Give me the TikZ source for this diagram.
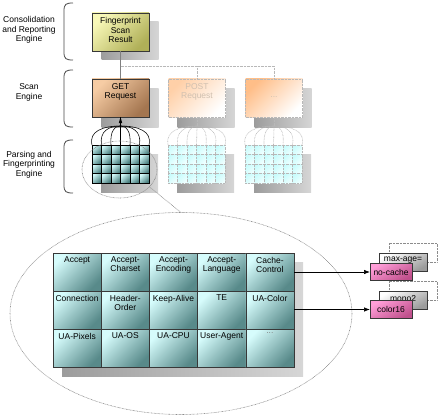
\documentclass[tikz,border=0pt]{standalone}
\usepackage{fontspec}
\setmainfont{Liberation Sans}
\usetikzlibrary{arrows.meta,calc,shapes.geometric}
\definecolor{edgec}{HTML}{383838}
\definecolor{shadowL}{HTML}{9C9C9C}
\definecolor{shadowR}{HTML}{D6D6D6}
\definecolor{yelA}{HTML}{F8F8B8}
\definecolor{yelB}{HTML}{B0B058}
\definecolor{orA}{HTML}{F6CCA4}
\definecolor{orB}{HTML}{A47650}
\definecolor{tealA}{HTML}{D2FAFA}
\definecolor{tealB}{HTML}{4A7E7E}
\definecolor{btealA}{HTML}{D6FCFC}
\definecolor{btealB}{HTML}{588A8A}
\definecolor{fadeA}{HTML}{C8FCFC}
\definecolor{fadeB}{HTML}{F0FFFF}
\definecolor{pinkA}{HTML}{FF9ED8}
\definecolor{pinkB}{HTML}{C0508C}
\definecolor{grayB}{HTML}{9C9C9C}
\definecolor{fadeO}{HTML}{FFD0A8}
\definecolor{fadeOO}{HTML}{FFBE88}
\definecolor{fadetext}{HTML}{D0C0B0}
\definecolor{dotc}{HTML}{B8B8B8}
\definecolor{dotdark}{HTML}{8C8C8C}
\definecolor{brk}{HTML}{484848}
\begin{document}
\begin{tikzpicture}[x=1pt,y=-1pt,
  every node/.style={font=\fontsize{8.5}{9.5}\selectfont, inner sep=0pt, outer sep=0pt},
  shadowbox/.style={draw=none, left color=shadowL, right color=shadowR},
  boxtext/.style={align=center},
  fpbox/.style={draw=edgec, line width=0.6pt, minimum width=57pt, minimum height=38pt,
     top color=yelA, bottom color=yelB, shading angle=45},
  getbox/.style={draw=edgec, line width=0.6pt, minimum width=57pt, minimum height=38pt,
     top color=orA, bottom color=orB, shading angle=45},
  fadebox/.style={draw=dotc, line width=0.6pt, dash pattern=on 0.7pt off 0.7pt,
     minimum width=57pt, minimum height=38pt, top color=#1, bottom color=white, shading angle=45},
  smallcell/.style={draw=black, line width=0.5pt, minimum size=9.5pt,
     top color=tealA, bottom color=tealB, shading angle=45},
  fadecell/.style={draw=dotc, line width=0.5pt, dash pattern=on 0.7pt off 0.7pt, minimum size=9.5pt,
     top color=fadeA, bottom color=fadeB, shading angle=45},
  bigcell/.style={draw=edgec, line width=0.6pt, minimum width=48.2pt, minimum height=38pt,
     top color=btealA, bottom color=btealB, shading angle=45},
  celltext/.style={anchor=north, align=center, font=\fontsize{8.5}{9}\selectfont},
  pinkbox/.style={draw=edgec, line width=0.6pt, minimum width=42pt, minimum height=17.5pt,
     top color=pinkA, bottom color=pinkB, shading angle=30},
  graybox/.style={draw=edgec, line width=0.6pt, minimum width=48pt, minimum height=18pt,
     top color=white, bottom color=grayB, shading angle=30},
  backdot/.style={draw=dotdark, line width=0.6pt, dash pattern=on 0.7pt off 0.7pt,
     minimum width=48pt, minimum height=19pt},
  dotline/.style={draw=dotc, line width=0.6pt, dash pattern=on 0.7pt off 0.7pt},
  darkdot/.style={draw=dotdark, line width=0.6pt, dash pattern=on 0.7pt off 0.7pt},
  bracket/.style={draw=brk, line width=0.8pt},
  arrowline/.style={draw=black, line width=0.7pt, -{Latex[length=6pt,width=4.5pt]}}
]
\useasboundingbox (0,0) rectangle (442,420);

% ---------- left labels and brackets ----------
\node[boxtext] (l1) at (29,30) {Consolidation\\and Reporting\\Engine};
\node[boxtext] (l2) at (29,92.5) {Scan\\Engine};
\node[boxtext] (l3) at (29,164.5) {Parsing and\\Fingerprinting\\Engine};
\draw[bracket] (73,3) .. controls (66,3) and (64,4) .. (64,11) -- (64,52) .. controls (64,59) and (66,60) .. (73,60);
\draw[bracket] (73,70) .. controls (66,70) and (64,71) .. (64,78) -- (64,119) .. controls (64,126) and (66,127) .. (73,127);
\draw[bracket] (73,140) .. controls (66,140) and (64,141) .. (64,148) -- (64,185) .. controls (64,192) and (66,193) .. (73,193);

% ---------- top boxes ----------
\path[shadowbox] (101.5,22) rectangle (158.5,60);
\node[fpbox] (fp) at (120.5,32) {};
\node[boxtext] (fpT) at (120.5,30) {Fingerprint\\Scan\\Result};

\path[shadowbox] (101.5,89) rectangle (158.5,127);
\path[shadowbox] (177.5,89) rectangle (234.5,127);
\path[shadowbox] (254.5,89) rectangle (311.5,127);

\node[getbox] (get) at (120.5,98) {};
\node[boxtext] (getT) at (120.5,92) {GET\\Request};
\node[fadebox=fadeO] (post) at (197,98) {};
\node[boxtext, text=fadetext] (postT) at (197,92) {POST\\Request};
\node[fadebox=fadeOO] (dots) at (274,98) {};
\node[text=fadetext] (dotsT) at (274,97) {...};

\draw[draw=gray, line width=0.8pt] (fp.south) -- (get.north);
\coordinate (br) at (120.5,66);
\draw[dotline] (br) -| (post.north);
\draw[dotline] (br) -| (dots.north);

% ---------- grids ----------
\path[shadowbox] (101,154) rectangle (158,192);
\path[shadowbox] (177,154) rectangle (234,192);
\path[shadowbox] (254,154) rectangle (311,192);
\foreach \r in {0,...,3}{
  \foreach \c in {0,...,5}{
    \node[smallcell] (g-\r-\c) at ({96.75+9.5*\c},{149.75+9.5*\r}) {};
    \node[fadecell] (p-\r-\c) at ({172.75+9.5*\c},{149.75+9.5*\r}) {};
    \node[fadecell] (e-\r-\c) at ({249.75+9.5*\c},{149.75+9.5*\r}) {};
  }
}

% ---------- fans ----------
\coordinate (fanG) at (120.5,126);
\coordinate (fanP) at (197,126);
\coordinate (fanE) at (274,126);
\draw[black, line width=0.7pt] (get.south) -- (fanG);
\fill[black] (get.south) -- (118.8,123) -- (122.2,123) -- cycle;
\draw[dotline] (post.south) -- (fanP);
\draw[dotline] (dots.south) -- (fanE);
\foreach \i in {0,...,6}{
  \pgfmathsetmacro\dd{9.5*\i-28.5}
  \coordinate (gt-\i) at ({92+9.5*\i},145);
  \coordinate (pt-\i) at ({168+9.5*\i},145);
  \coordinate (et-\i) at ({245+9.5*\i},145);
  \draw[black, line width=0.55pt] (fanG) .. controls ({120.5+0.6*\dd},126) and ({120.5+1.12*\dd},131) .. (gt-\i);
  \draw[dotline] (fanP) .. controls ({197+0.6*\dd},126) and ({197+1.12*\dd},131) .. (pt-\i);
  \draw[dotline] (fanE) .. controls ({274+0.6*\dd},126) and ({274+1.12*\dd},131) .. (et-\i);
}

% ---------- zoom ellipses ----------
\node[ellipse, darkdot, minimum width=75pt, minimum height=57pt] (sEl) at (119.5,169.5) {};
\node[ellipse, darkdot, minimum width=342pt, minimum height=202pt] (bEl) at (181,313.5) {};
\draw[darkdot] (sEl.-30) -- (bEl.north);

% ---------- big grid ----------
\path[shadowbox] (62,262) rectangle (303,376);
\foreach \r in {0,...,2}{
  \foreach \c in {0,...,4}{
    \node[bigcell] (b-\r-\c) at ({77.1+48.2*\c},{272+38*\r}) {};
  }
}
\node[celltext] (t-0-0) at ([yshift=-4pt]b-0-0.north) {Accept};
\node[celltext] (t-0-1) at ([yshift=-4pt]b-0-1.north) {Accept-\\Charset};
\node[celltext] (t-0-2) at ([yshift=-4pt]b-0-2.north) {Accept-\\Encoding};
\node[celltext] (t-0-3) at ([yshift=-4pt]b-0-3.north) {Accept-\\Language};
\node[celltext] (t-0-4) at ([yshift=-4pt]b-0-4.north) {Cache-\\Control};
\node[celltext] (t-1-0) at ([yshift=-4pt]b-1-0.north) {Connection};
\node[celltext] (t-1-1) at ([yshift=-4pt]b-1-1.north) {Header-\\Order};
\node[celltext] (t-1-2) at ([yshift=-4pt]b-1-2.north) {Keep-Alive};
\node[celltext] (t-1-3) at ([yshift=-4pt]b-1-3.north) {TE};
\node[celltext] (t-1-4) at ([yshift=-4pt]b-1-4.north) {UA-Color};
\node[celltext] (t-2-0) at ([yshift=-4pt]b-2-0.north) {UA-Pixels};
\node[celltext] (t-2-1) at ([yshift=-4pt]b-2-1.north) {UA-OS};
\node[celltext] (t-2-2) at ([yshift=-4pt]b-2-2.north) {UA-CPU};
\node[celltext] (t-2-3) at ([yshift=-4pt]b-2-3.north) {User-Agent};
\node[celltext, text=gray] (t-2-4) at ([yshift=-4pt]b-2-4.north) {...};

% ---------- value boxes ----------
\node[backdot] (mad) at (413,252.5) {};
\node[graybox] (ma) at (403,262) {};
\node (maT) at (403,260.5) {max-age=};
\node[pinkbox] (nc) at (391,272) {no-cache};

\node[backdot] (mod) at (413,290.5) {};
\node[graybox] (mo) at (403,300) {};
\node (moT) at (403,298.5) {mono2};
\node[pinkbox] (cs) at (391,309.5) {color16};

\draw[arrowline] (b-0-4.east |- nc.west) -- (nc.west);
\draw[arrowline] (b-1-4.east |- cs.west) -- (cs.west);
\end{tikzpicture}
\end{document}
